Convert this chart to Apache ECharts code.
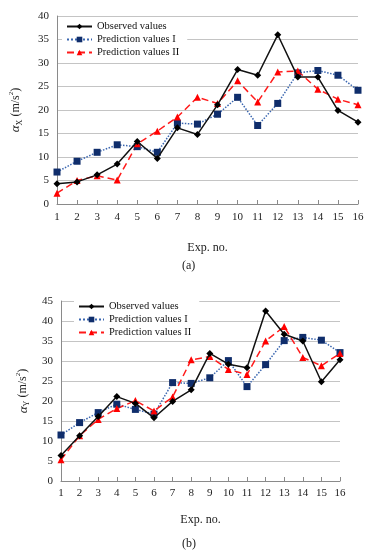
<!DOCTYPE html>
<html><head><meta charset="utf-8">
<script src="https://cdn.jsdelivr.net/npm/echarts@6/dist/echarts.min.js"></script>
<style>html,body{margin:0;padding:0;background:#fff}#c{width:372px;height:550px}</style>
</head><body><div id="c"></div>
<script>
var categories = ['1','2','3','4','5','6','7','8','9','10','11','12','13','14','15','16'];
var seriesNames = ['Observed values','Prediction values I','Prediction values II'];
// (a) alpha_X
var obsX   = [4.3, 4.7, 6.2, 8.5, 13.3, 9.7, 16.2, 14.8, 21.1, 28.6, 27.4, 36.0, 27.0, 27.0, 19.9, 17.4];
var predIX = [6.8, 9.1, 11.0, 12.6, 12.2, 11.0, 17.2, 17.0, 19.1, 22.7, 16.7, 21.4, 27.9, 28.4, 27.4, 24.2];
var predIIX= [2.3, 5.0, 6.0, 5.1, 12.8, 15.5, 18.5, 22.7, 21.4, 26.2, 21.7, 28.1, 28.3, 24.4, 22.3, 21.1];
// (b) alpha_Y
var obsY   = [6.4, 11.3, 16.1, 21.1, 19.4, 15.8, 19.9, 22.8, 31.9, 29.2, 28.3, 42.5, 36.7, 35.0, 24.8, 30.3];
var predIY = [11.5, 14.6, 17.1, 19.2, 17.9, 16.7, 24.6, 24.4, 25.8, 30.1, 23.6, 29.1, 35.1, 35.9, 35.2, 32.1];
var predIIY= [5.3, 11.3, 15.4, 18.1, 20.1, 17.5, 21.0, 30.3, 31.1, 27.9, 26.6, 35.0, 38.6, 30.9, 28.8, 31.9];
var yTicksA = {min:0, max:40, interval:5};
var yTicksB = {min:0, max:45, interval:5};

var FONT = '"Liberation Serif", "DejaVu Serif", serif';
var chart = echarts.init(document.getElementById('c'), null, {renderer:'canvas'});

function xAxis(idx, margin, nameGap){
  return {
    type:'category', gridIndex:idx, data:categories, boundaryGap:false,
    axisLine:{lineStyle:{color:'#8a8a8a', width:1}},
    axisTick:{inside:true, length:4, lineStyle:{color:'#8a8a8a'}},
    axisLabel:{interval:0, margin:margin, color:'#222', fontFamily:FONT, fontSize:11},
    name:'Exp. no.', nameLocation:'middle', nameGap:nameGap,
    nameTextStyle:{color:'#222', fontFamily:FONT, fontSize:12},
    splitLine:{show:false}
  };
}
function yAxis(idx, t, letter, nameGap){
  return {
    type:'value', gridIndex:idx, min:t.min, max:t.max, interval:t.interval,
    axisLine:{show:true, lineStyle:{color:'#8a8a8a'}},
    axisTick:{show:false},
    axisLabel:{margin:8, color:'#222', fontFamily:FONT, fontSize:11},
    splitLine:{lineStyle:{color:'#c4c4c4', width:1}},
    name:'{a|α}{s|' + letter + '}{b| (m/s}{p|2}{b|)}', nameLocation:'middle', nameGap:nameGap, nameRotate:90,
    nameTextStyle:{color:'#222', fontFamily:FONT, fontSize:12,
      rich:{
        a:{fontFamily:FONT, fontStyle:'italic', fontSize:13, color:'#222', lineHeight:16},
        s:{fontFamily:FONT, fontSize:8, color:'#222', verticalAlign:'bottom', lineHeight:16},
        b:{fontFamily:FONT, fontSize:12, color:'#222', lineHeight:16},
        p:{fontFamily:FONT, fontSize:7, color:'#222', verticalAlign:'top', lineHeight:16}
      }}
  };
}
function mkSeries(idx, obs, p1, p2){
  return [
    {name:seriesNames[0], type:'line', xAxisIndex:idx, yAxisIndex:idx, data:obs,
     symbol:'diamond', symbolSize:7, color:'#000',
     lineStyle:{color:'#111', width:1.5, type:'solid'}, itemStyle:{color:'#000'}, z:4},
    {name:seriesNames[1], type:'line', xAxisIndex:idx, yAxisIndex:idx, data:p1,
     symbol:'rect', symbolSize:7, color:'#0f2d6b',
     lineStyle:{color:'#3a66b0', width:1.5, type:'dotted'}, itemStyle:{color:'#0f2d6b'}, z:3},
    {name:seriesNames[2], type:'line', xAxisIndex:idx, yAxisIndex:idx, data:p2,
     symbol:'triangle', symbolSize:7, color:'#ff0000',
     lineStyle:{color:'#ff1a1a', width:1.5, type:[7,4]}, itemStyle:{color:'#ff0000'}, z:3}
  ];
}
var sA = mkSeries(0, obsX, predIX, predIIX);
var sB = mkSeries(1, obsY, predIY, predIIY);
sB.forEach(function(s, i){ s.id = 'b' + i; });
sA.forEach(function(s, i){ s.id = 'a' + i; });

function legend(left, top){
  return {
    orient:'vertical', left:left, top:top, itemWidth:25, itemHeight:7, itemGap:2,
    backgroundColor:'#fff', padding:[3,8,3,4],
    textStyle:{color:'#111', fontFamily:FONT, fontSize:10.5},
    data:seriesNames
  };
}

chart.setOption({
  animation:false,
  backgroundColor:'#fff',
  grid:[
    {left:46, right:14, top:16, height:188},
    {left:61, right:32, top:301, height:180}
  ],
  xAxis:[xAxis(0, 8, 38), xAxis(1, 7, 33)],
  yAxis:[yAxis(0, yTicksA, 'X', 33), yAxis(1, yTicksB, 'Y', 28)],
  legend:[legend(62, 18), legend(74, 298)],
  title:[
    {text:'(a)', left:177, top:255, textStyle:{fontFamily:FONT, fontSize:12, fontWeight:'normal', color:'#222'}},
    {text:'(b)', left:177, top:533, textStyle:{fontFamily:FONT, fontSize:12, fontWeight:'normal', color:'#222'}}
  ],
  series:sA.concat(sB)
});
</script></body></html>
